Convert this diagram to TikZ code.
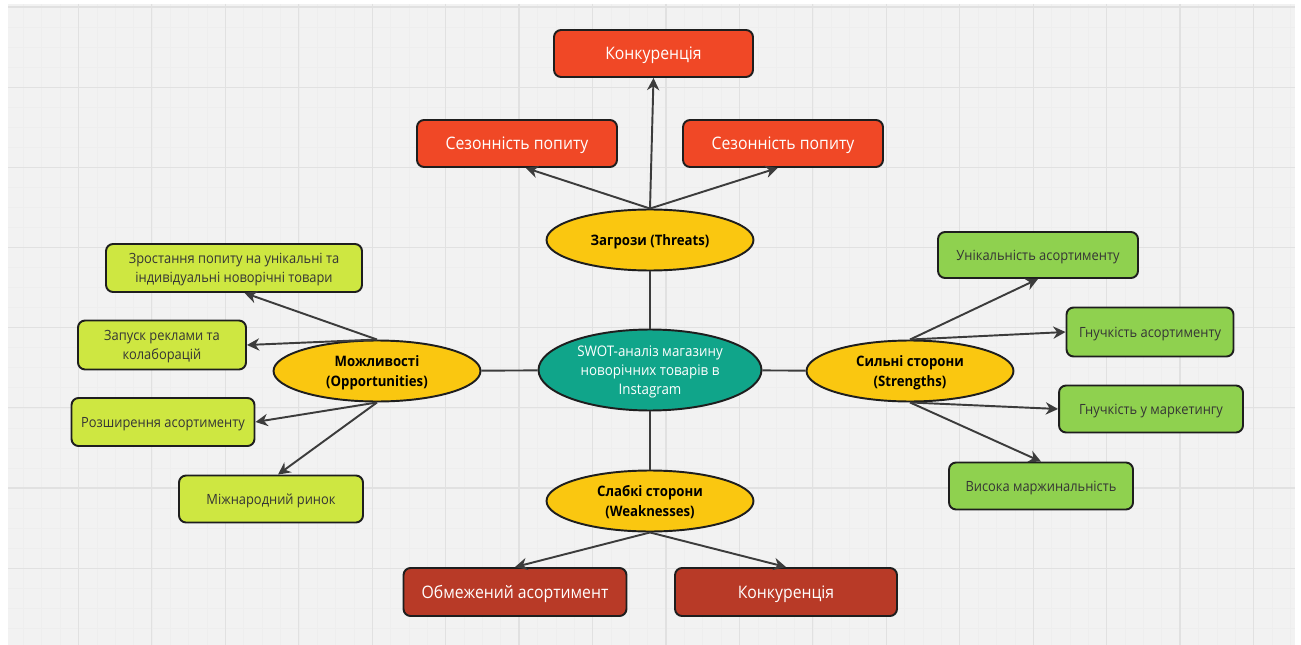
\documentclass[tikz,border=0pt]{standalone}
\usepackage{fontspec}
\setmainfont{Open Sans}[FakeStretch=0.916]
\usetikzlibrary{arrows.meta,shapes.geometric}
\definecolor{paper}{HTML}{F2F2F2}
\definecolor{gridmajor}{HTML}{E1E1E1}
\definecolor{gridminor}{HTML}{EEEEEE}
\definecolor{ink}{HTML}{1E1E1E}
\definecolor{wire}{HTML}{3C3C3C}
\definecolor{threatred}{HTML}{F04826}
\definecolor{weakred}{HTML}{B83A27}
\definecolor{opplime}{HTML}{CEE741}
\definecolor{stronggreen}{HTML}{8FD14F}
\definecolor{ovalyellow}{HTML}{FAC710}
\definecolor{coreteal}{HTML}{10A58A}
\tikzset{>={Stealth[length=7pt,width=7pt]}}
\tikzset{
  box/.style={rectangle,rounded corners=4pt,draw=ink,line width=1.1pt,align=center,inner sep=0pt,text depth=0pt},
  threat/.style={box,fill=threatred,text=white,font=\fontsize{9.8}{11}\selectfont},
  weak/.style={box,fill=weakred,text=white,font=\fontsize{9.8}{11}\selectfont},
  opp/.style={box,fill=opplime,text=ink!90,font=\fontsize{8}{11.2}\selectfont},
  strong/.style={box,fill=stronggreen,text=ink!90,font=\fontsize{8}{11.2}\selectfont},
  oval/.style={ellipse,draw=ink,line width=1.1pt,fill=ovalyellow,align=center,inner sep=0pt,text depth=0pt,
    minimum width=4.14cm,minimum height=1.22cm,font=\fontsize{8.2}{11.2}\selectfont\bfseries},
  core/.style={ellipse,draw=ink,line width=1.1pt,fill=coreteal,text=white,align=center,inner sep=0pt,text depth=0pt,
    minimum width=4.46cm,minimum height=1.62cm,font=\fontsize{8.3}{10.8}\selectfont},
  link/.style={draw=wire,line width=1.1pt},
}

\begin{document}
\begin{tikzpicture}[x=0.02cm,y=-0.02cm]
      \useasboundingbox (0,0) rectangle (1301,645);
      \fill[paper] (8,4) rectangle (1295,645);
      \begin{scope}
        \clip (8,4) rectangle (1295,645);
        \foreach \k in {0,...,72} \draw[gridminor,line width=0.3pt] ({5+\k*18.36},4) -- ++(0,641);
        \foreach \k in {0,...,32} \draw[gridminor,line width=0.3pt] (8,{7+\k*20.04}) -- ++(1287,0);
        \foreach \k in {0,...,17} \draw[gridmajor,line width=0.7pt] ({5+\k*73.44},4) -- ++(0,641);
        \foreach \k in {0,...,8} \draw[gridmajor,line width=0.7pt] (8,{7+\k*80.17}) -- ++(1287,0);
      \end{scope}

      \node[core] (C) at (650,370) {SWOT-аналіз магазину\\новорічних товарів в\\Instagram};
      \node[oval] (T) at (650,240) {Загрози (Threats)};
      \node[oval] (O) at (377,371) {Можливості\\(Opportunities)};
      \node[oval] (S) at (910,371) {Сильні сторони\\(Strengths)};
      \node[oval] (W) at (650,501) {Слабкі сторони\\(Weaknesses)};

      \node[threat,minimum width=3.98cm,minimum height=0.94cm] (T1) at (653.5,53.5) {Конкуренція};
      \node[threat,minimum width=4.0cm,minimum height=0.94cm] (T2) at (517,143.5) {Сезонність попиту};
      \node[threat,minimum width=4.0cm,minimum height=0.94cm] (T3) at (783,143.5) {Сезонність попиту};

      \node[weak,minimum width=4.46cm,minimum height=0.96cm] (W1) at (515,592) {Обмежений асортимент};
      \node[weak,minimum width=4.44cm,minimum height=0.96cm] (W2) at (786,592) {Конкуренція};

      \node[opp,minimum width=5.12cm,minimum height=0.96cm] (O1) at (234,268) {Зростання попиту на унікальні та\\індивідуальні новорічні товари};
      \node[opp,minimum width=3.36cm,minimum height=0.98cm] (O2) at (162,345) {Запуск реклами та\\колаборацій};
      \node[opp,minimum width=3.66cm,minimum height=0.96cm] (O3) at (163,422) {Розширення асортименту};
      \node[opp,minimum width=3.68cm,minimum height=0.94cm] (O4) at (271,499) {Міжнародний ринок};

      \node[strong,minimum width=4.0cm,minimum height=0.92cm] (S1) at (1038,255) {Унікальність асортименту};
      \node[strong,minimum width=3.34cm,minimum height=0.98cm] (S2) at (1150,332) {Гнучкість асортименту};
      \node[strong,minimum width=3.68cm,minimum height=0.94cm] (S3) at (1151,409) {Гнучкість у маркетингу};
      \node[strong,minimum width=3.68cm,minimum height=0.94cm] (S4) at (1041,486) {Висока маржинальність};

      \draw[link] (C) -- (T);
      \draw[link] (C) -- (O);
      \draw[link] (C) -- (S);
      \draw[link] (C) -- (W);

      \draw[link,->] (T.north) -- (T1.south);
      \draw[link,->] (T.north) -- ([xshift=5]T2.south);
      \draw[link,->] (T.north) -- ([xshift=-3]T3.south);
      \draw[link,->] (W.south) -- (W1.north);
      \draw[link,->] (W.south) -- (W2.north);
      \draw[link,->] (O.north) -- ([xshift=6]O1.south);
      \draw[link,->] (O.north) -- (O2.east);
      \draw[link,->] (O.south) -- (O3.east);
      \draw[link,->] (O.south) -- ([xshift=4]O4.north);
      \draw[link,->] (S.north) -- (S1.south);
      \draw[link,->] (S.north) -- (S2.west);
      \draw[link,->] (S.south) -- (S3.west);
      \draw[link,->] (S.south) -- (S4.north);
    \end{tikzpicture}
\end{document}
